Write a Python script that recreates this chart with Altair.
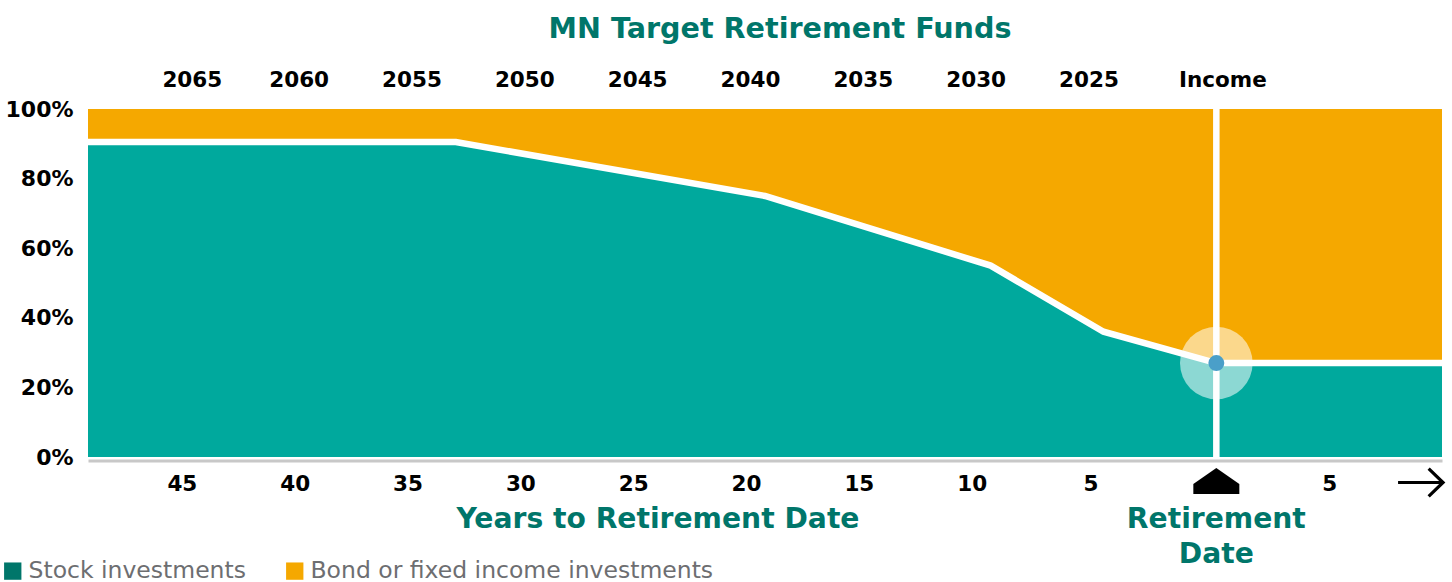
import altair as alt
import pandas as pd

# ---- data ----
years_to_ret = [50, 33.7, 20, 10, 5, 0, -10]          # years to retirement (negative = after)
stock_pct = [90.5, 90.5, 75, 55, 36, 27, 27]           # stock share, %
total_pct = [100, 100, 100, 100, 100, 100, 100]

bottom_ticks = [45, 40, 35, 30, 25, 20, 15, 10, 5, -5]
top_ticks = [45, 40, 35, 30, 25, 20, 15, 10, 5, 0]
y_ticks = [0, 20, 40, 60, 80, 100]

legend_labels = ["Stock investments", "Bond or fixed income investments"]
legend_colors = ["#00766a", "#f5a800"]

retire_year = [0]
retire_stock = [27]

TEAL = "#00a99d"
ORANGE = "#f5a800"
GREEN_TXT = "#00766a"
FONT = "DejaVu Sans"

df = pd.DataFrame({"yrs": years_to_ret, "stock": stock_pct, "total": total_pct})
dret = pd.DataFrame({"yrs": retire_year, "stock": retire_stock, "lo": [0], "hi": [100]})

W, H = 1354, 348

xscale = alt.Scale(domain=[50, -10], nice=False, zero=False)
yscale = alt.Scale(domain=[0, 100], nice=False)

y_axis = alt.Axis(
    values=y_ticks, labelExpr="datum.value + '%'",
    labelFont=FONT, labelFontWeight="bold", labelFontSize=22, labelColor="black",
    labelBaseline="middle", labelPadding=15, ticks=False, tickSize=0,
    domain=False, grid=False, labelFlush=False, orient="left",
)


def xn(field="yrs:Q"):
    return alt.X(field, scale=xscale, axis=None)


def yn(field="stock:Q"):
    return alt.Y(field, scale=yscale, title=None, axis=y_axis)


x_bottom = alt.X(
    "yrs:Q", scale=xscale, title=None,
    axis=alt.Axis(
        orient="bottom", values=bottom_ticks,
        labelExpr="datum.value < 0 ? -datum.value : datum.value",
        labelOffset={"condition": [{"test": "datum.value < 0", "value": 0},
                                   {"test": "datum.value == 5", "value": -13}],
                     "value": -19},
        labelFont=FONT, labelFontWeight="bold", labelFontSize=21.5, labelColor="black",
        labelBaseline="middle", labelPadding=24, ticks=False, tickSize=0,
        domain=True, domainColor="#c8c8c8", domainWidth=3, offset=3.5,
        grid=False, labelFlush=False, labelOverlap=False,
    ),
)

base = alt.Chart(df)

bond = base.mark_area(color=ORANGE, interpolate="linear").encode(
    x=x_bottom, y=yn(), y2="total:Q")
stock = base.mark_area(color=TEAL, interpolate="linear").encode(x=xn(), y=yn())

# top axis (fund names) from an invisible layer
top_axis_layer = base.mark_point(opacity=0, size=0).encode(
    x=alt.X(
        "yrs:Q", scale=xscale, title=None,
        axis=alt.Axis(
            orient="top", values=top_ticks,
            labelExpr="datum.value == 0 ? 'Income' : '' + (2020 + datum.value)",
            labelOffset={"condition": [{"test": "datum.value == 0", "value": 6},
                                       {"test": "datum.value == 45", "value": -9}],
                         "value": -15},
            labelFont=FONT, labelFontWeight="bold", labelFontSize=21.5, labelColor="black",
            labelBaseline="middle", labelPadding=28.5, ticks=False, tickSize=0,
            domain=False, grid=False, labelFlush=False, labelOverlap=False,
        ),
    ),
    y=yn(),
)

boundary = base.mark_line(color="white", strokeWidth=6.5, interpolate="linear").encode(x=xn(), y=yn())

rret = alt.Chart(dret)
vline = rret.mark_rule(color="white", strokeWidth=6.5).encode(x=xn(), y=yn("lo:Q"), y2="hi:Q")
halo = rret.mark_point(filled=True, color="white", opacity=0.55, size=5281, shape="circle").encode(
    x=xn(), y=yn())
dot = rret.mark_point(filled=True, color="#4a9fc9", opacity=1, size=254, shape="circle").encode(
    x=xn(), y=yn())

tri_path = "M0,-0.57 L1,0.13 L1,0.57 L-1,0.57 L-1,0.13 Z"
triangle = rret.mark_point(filled=True, color="black", opacity=1, size=2116, shape=tri_path,
                           strokeWidth=0).encode(x=xn(), y=alt.value(372))

arrow_path = "M-1,0 L1,0 M0.36,-0.62 L1,0 L0.36,0.62"
arrow = alt.Chart(pd.DataFrame({"yrs": [-9.05]})).mark_point(
    filled=False, color="black", opacity=1, size=2025, shape=arrow_path, strokeWidth=3.2
).encode(x=xn(), y=alt.value(373.5))

title_txt = alt.Chart(pd.DataFrame({"t": ["MN Target Retirement Funds"]})).mark_text(
    font=FONT, fontWeight="bold", fontSize=28.6, color=GREEN_TXT, baseline="middle", align="center"
).encode(text="t:N", x=alt.value(692), y=alt.value(-79.7))

years_title = alt.Chart(pd.DataFrame({"t": ["Years to Retirement Date"]})).mark_text(
    font=FONT, fontWeight="bold", fontSize=28.2, color=GREEN_TXT, baseline="middle", align="center"
).encode(text="t:N", x=alt.value(570), y=alt.value(411.3))

ret_title = alt.Chart(pd.DataFrame({"t": ["Retirement\nDate"], "yrs": [0]})).mark_text(
    font=FONT, fontWeight="bold", fontSize=28.2, color=GREEN_TXT, baseline="middle", align="center",
    lineBreak="\n", lineHeight=35
).encode(text="t:N", x=xn(), y=alt.value(411.3))

legend_layer = alt.Chart(pd.DataFrame({"k": legend_labels, "yrs": [0, 0], "stock": [27, 27]})).mark_square(
    size=0, opacity=1, filled=True
).encode(
    x=xn(), y=yn(),
    color=alt.Color("k:N", scale=alt.Scale(domain=legend_labels, range=legend_colors),
                    legend=alt.Legend(
                        title=None, orient="none", legendX=-87, legendY=450, direction="horizontal",
                        symbolType="square", symbolSize=300, symbolStrokeWidth=0, symbolOpacity=1,
                        labelFont=FONT, labelFontSize=23.5, labelColor="#6d6e71",
                        labelOffset=4, columnPadding=37, padding=0, labelLimit=600,
                    )),
)

chart = alt.layer(
    bond, stock, top_axis_layer, boundary, vline, halo, dot, triangle, arrow,
    title_txt, years_title, ret_title, legend_layer
).properties(
    width=W, height=H,
    autosize=alt.AutoSizeParams(type="none"),
    padding={"left": 88, "top": 109, "right": 10, "bottom": 125},
).configure_view(stroke=None)

chart.save("out.html", embed_options={"renderer": "svg", "actions": False})
